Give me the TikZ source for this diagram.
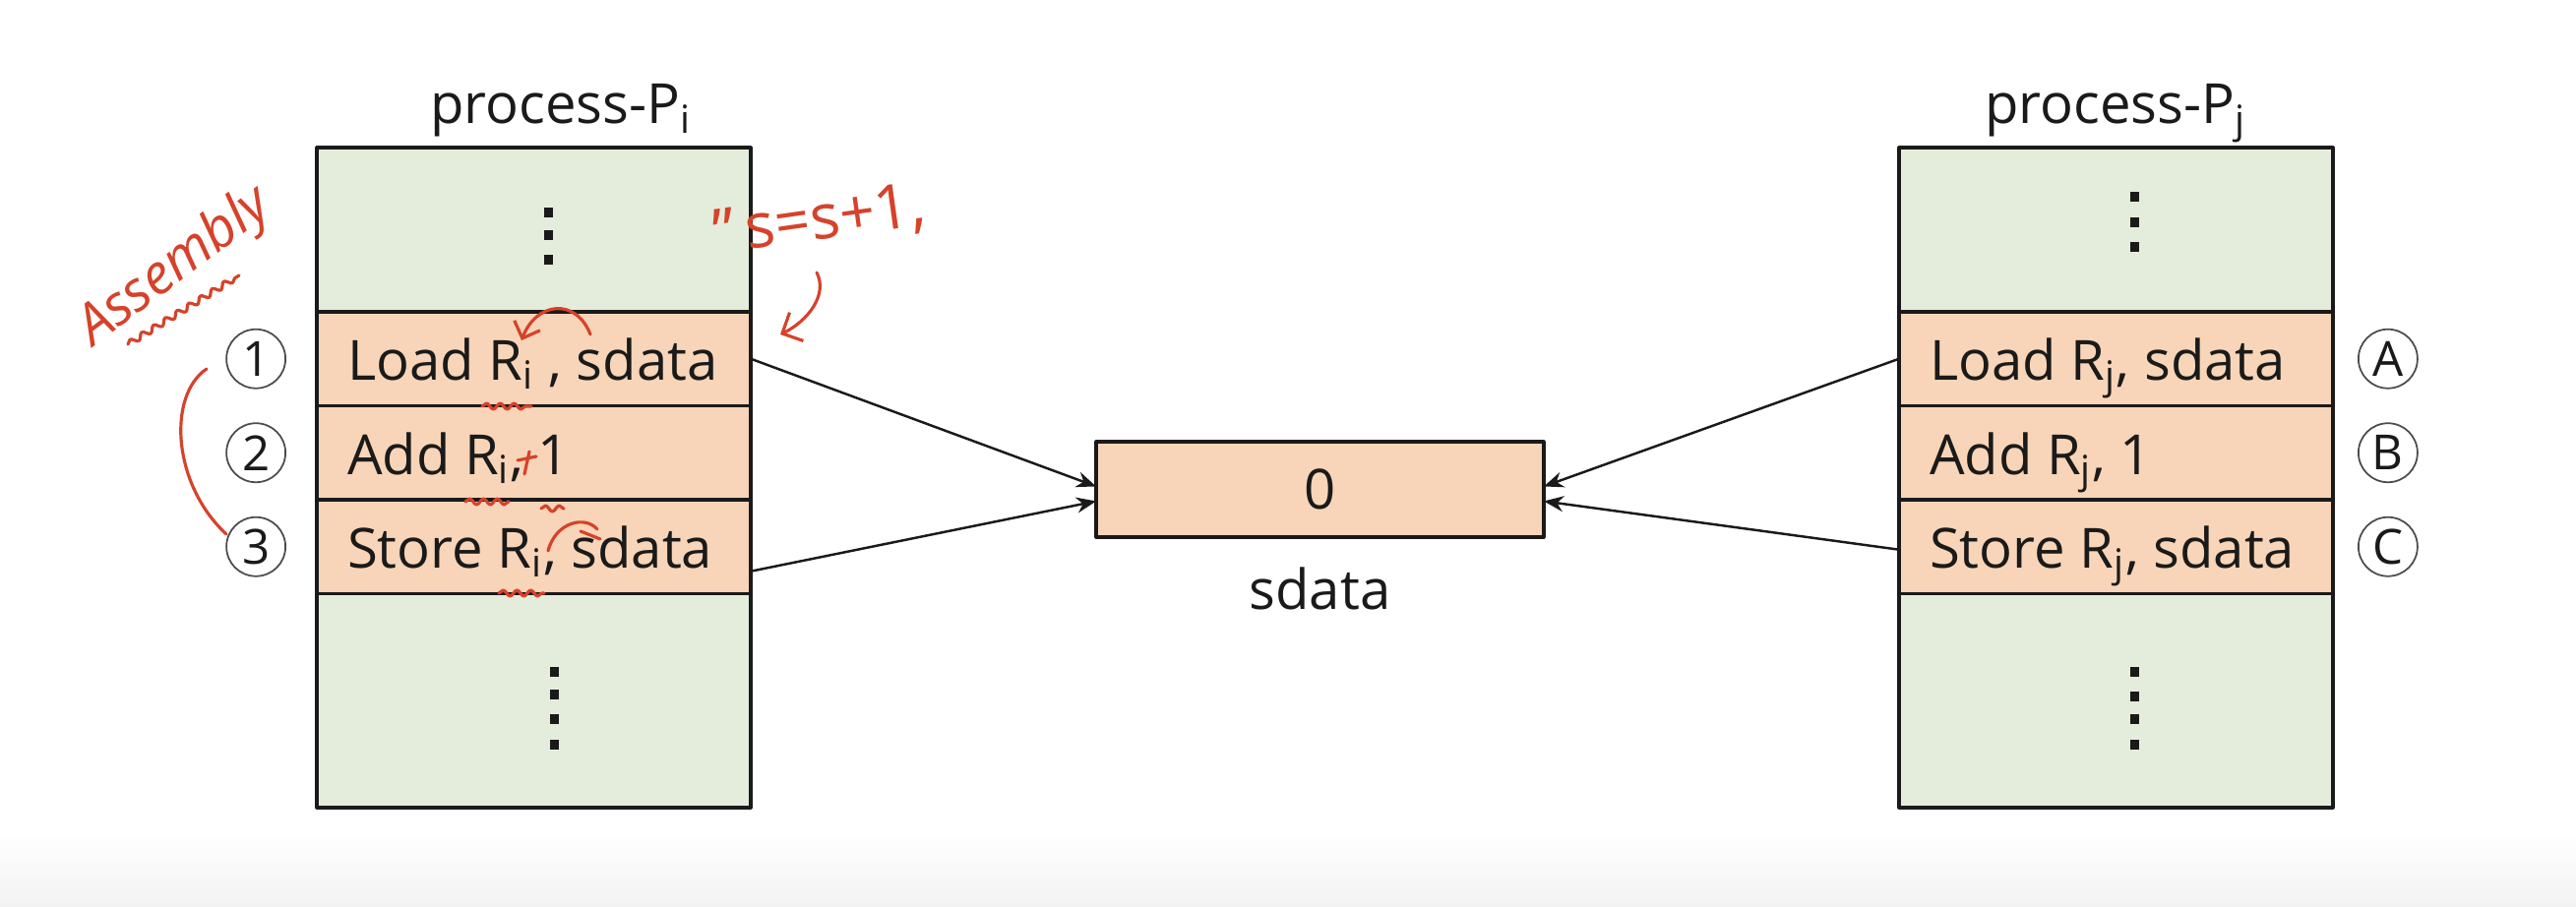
\documentclass[tikz,border=0pt]{standalone}
\usepackage{fontspec}
\setmainfont{Open Sans}
\usetikzlibrary{arrows.meta,positioning,decorations.pathmorphing}
\definecolor{procgreen}{RGB}{228,237,219}
\definecolor{peach}{RGB}{248,213,184}
\definecolor{ink}{RGB}{26,26,26}
\definecolor{pen}{RGB}{214,66,42}
\newcommand\instrtext[1]{\makebox[3.79cm][l]{#1}}
\tikzset{
	frame/.style={draw=ink, line width=.9pt, fill=procgreen, outer sep=0pt, minimum width=4.41cm, minimum height=6.71cm},
	instr/.style={draw=ink, line width=.9pt, fill=peach, outer sep=0pt, minimum height=.955cm, minimum width=4.41cm, inner xsep=.31cm, inner ysep=0pt, text height=.6cm, text depth=.16cm, text=ink},
	circ/.style={circle, draw=black!70, line width=.5pt, minimum size=.6cm, inner sep=0pt, text=ink, font=\fontsize{14}{14}\selectfont},
	scribble/.style={draw=pen, line width=.9pt},
	squig/.style={scribble, decorate, decoration={snake, amplitude=.3mm, segment length=1.4mm}},
	pentext/.style={text=pen, font=\fontsize{16}{16}\selectfont\itshape}
}
\begin{document}
\begin{tikzpicture}[font=\fontsize{16}{19}\selectfont, line join=round, line cap=round, >={Stealth[length=2mm,width=1.6mm]}]
		\useasboundingbox (0,0) rectangle (26.18,9.22);
		\shade[top color=white, bottom color=black!5] (0,0) rectangle (26.18,.75);
		\foreach \s/\cx/\tx/\gap in {i/5.425/5.70/\ , j/21.505/21.50/} {
			\node[frame] (P\s) at (\cx,4.365) {};
			\node[anchor=base, text=ink] (t\s) at (\tx,7.96) {process-P\textsubscript{\s}};
			\node[instr, anchor=north west] (\s1) at ([yshift=-1.67cm]P\s.north west) {\instrtext{Load R\textsubscript{\s}\gap, sdata}};
			\node[instr, below=0pt of \s1] (\s2) {\instrtext{Add R\textsubscript{\s}, 1}};
			\node[instr, below=0pt of \s2] (\s3) {\instrtext{Store R\textsubscript{\s}, sdata}};
		}
		\foreach \x/\y in {5.57/7.06, 5.57/6.83, 5.57/6.58, 5.63/2.39, 5.63/2.16, 5.63/1.91, 5.63/1.65,
			21.69/7.22, 21.69/6.96, 21.69/6.71, 21.69/2.39, 21.69/2.14, 21.69/1.91, 21.69/1.65}
		\fill[ink] (\x-.045,\y-.05) rectangle ++(.09,.1);
		\foreach \n/\t in {1/1, 2/2, 3/3}
		\node[circ, left=.31cm of i\n] (ci\n) {\t};
		\foreach \n/\t in {1/A, 2/B, 3/C}
		\node[circ, right=.25cm of j\n] (cj\n) {\t};
		\node[draw=ink, line width=.9pt, fill=peach, outer sep=0pt, minimum width=4.55cm, minimum height=.97cm, text=ink] (mem) at (13.415,4.245) {0};
		\node[text=ink] (memlbl) at (13.415,3.24) {sdata};
		\draw[->, ink, line width=.7pt] (i1.east) -- ([yshift=.03cm]mem.west);
		\draw[->, ink, line width=.7pt] ([yshift=-.25cm]i3.east) -- ([yshift=-.12cm]mem.west);
		\draw[->, ink, line width=.7pt] (j1.west) -- ([yshift=.03cm]mem.east);
		\draw[->, ink, line width=.7pt] ([yshift=-.03cm]j3.west) -- ([yshift=-.12cm]mem.east);
		\node[pentext, rotate=37] (asm) at (1.78,6.50) {Assembly};
		\draw[squig] (1.30,5.72) -- (2.43,6.42);
		\node[pentext, rotate=8, font=\fontsize{18}{18}\selectfont] (note) at (8.33,6.97) {"\,s=s+1,};
		\draw[scribble, -{Straight Barb[length=1.6mm]}] (8.30,6.45) .. controls (8.42,6.22) and (8.20,5.95) .. (7.93,5.82);
		\draw[scribble, -{Straight Barb[length=1.4mm]}] (6.00,5.82) .. controls (5.85,6.20) and (5.45,6.15) .. (5.30,5.76);
		\draw[squig] (4.90,5.09) -- (5.40,5.09);
		\draw[squig] (4.73,4.12) -- (5.17,4.12);
		\draw[squig] (5.50,4.05) -- (5.73,4.05);
		\draw[squig] (5.07,3.19) -- (5.53,3.19);
		\draw[scribble] (5.38,4.63) -- (5.33,4.40) (5.26,4.54) -- (5.45,4.58);
		\draw[scribble] (5.57,3.62) .. controls (5.65,3.92) and (5.95,3.98) .. (6.07,3.84);
		\draw[scribble] (5.90,3.82) -- (6.10,3.74);
		\draw[scribble] (2.10,5.47) .. controls (1.70,5.20) and (1.75,4.30) .. (2.30,3.79);
	\end{tikzpicture}
\end{document}
